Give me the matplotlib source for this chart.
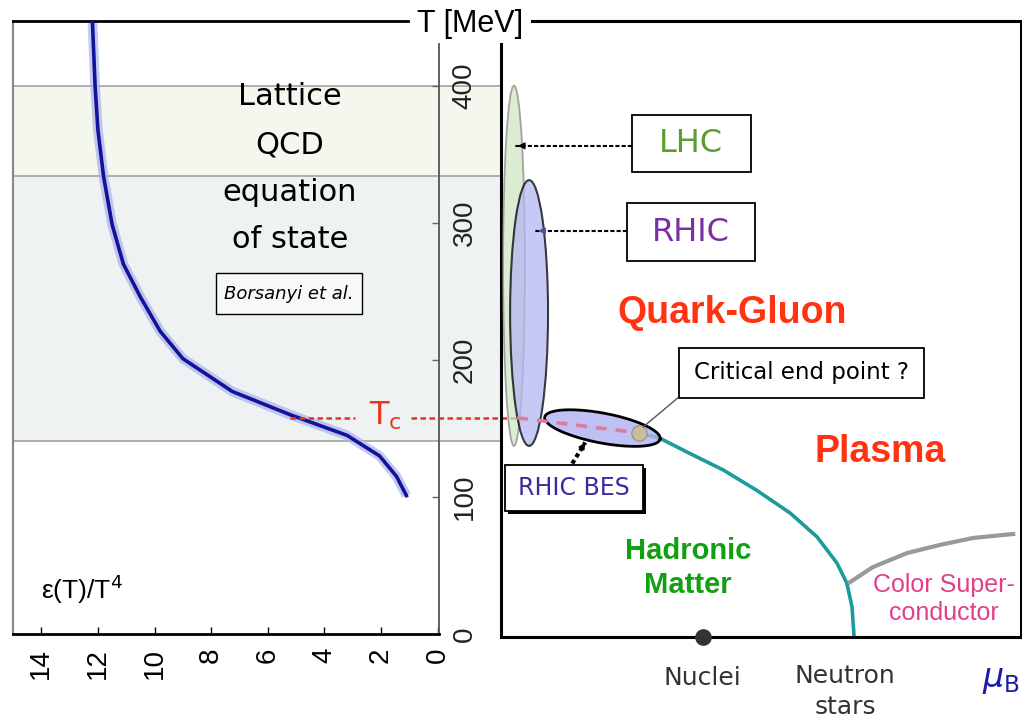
import numpy as np
import matplotlib.pyplot as plt
from matplotlib.patches import Ellipse, Rectangle

plt.rcParams['font.family'] = ['Liberation Sans', 'DejaVu Sans']
plt.rcParams['mathtext.fontset'] = 'dejavusans'

# ---------------------------------------------------------
# Data
# ---------------------------------------------------------
# lattice QCD equation of state (Borsanyi et al.): eps/T^4 vs T [MeV]
eos_T = [450, 400, 368, 334, 299, 270, 246, 221, 201, 177, 160, 145, 130, 115, 101]
eos_eps = [12.2, 12.1, 12.0, 11.8, 11.5, 11.1, 10.5, 9.8, 9.0, 7.25, 5.2, 3.2, 2.05, 1.45, 1.1]

T_c = 158
band_T = [141, 334, 400]          # shaded T ranges (RHIC / LHC)
eps_ticks = [0, 2, 4, 6, 8, 10, 12, 14]
T_ticks = [0, 100, 200, 300, 400]

# phase diagram (mu_B in arbitrary units 0..1, T in MeV)
crit_mu, crit_T = 0.265, 149
crossover_mu = [0.031, 0.265]
crossover_T = [160, 149]
boundary_mu = [0.265, 0.306, 0.363, 0.427, 0.492, 0.556, 0.608, 0.646, 0.665, 0.675, 0.679]
boundary_T = [149, 145, 134, 122, 107, 90.5, 73, 54, 39.4, 22, 0]
csc_mu = [0.671, 0.715, 0.781, 0.844, 0.908, 0.985]
csc_T = [40, 51, 61.3, 67.2, 72.3, 75.2]
nuclei_mu = 0.388

# collider regions: center (mu, T), full width (mu), full height (T)
lhc_region = (0.025, 271, 0.042, 263)
rhic_region = (0.054, 236.5, 0.073, 194)
bes_center = (0.195, 152.5)
bes_major = (0.111, -8.0)
bes_minor = (-0.0054, -10.7)

# ---------------------------------------------------------
# Figure
# ---------------------------------------------------------
W, H = 1022, 721
fig = plt.figure(figsize=(W / 100, H / 100), dpi=100)

ax_l = fig.add_axes([13 / W, 1 - 634 / H, 426 / W, 613 / H])
ax_r = fig.add_axes([501 / W, 1 - 637 / H, 520 / W, 616 / H])
ax_r.set_facecolor('none')

# ---------------------------------------------------------
# Left panel: equation of state
# ---------------------------------------------------------
ax_l.set_xlim(15, -0.05)
ax_l.set_ylim(0, 613 / 1.37)

ax_l.axhspan(band_T[0], band_T[1], xmin=0, xmax=1.146, color='#eef2f3', lw=0, zorder=0, clip_on=False)
ax_l.axhspan(band_T[1], band_T[2], xmin=0, xmax=1.146, color='#f4f7ee', lw=0, zorder=0, clip_on=False)
for t in band_T:
    ax_l.axhline(t, xmin=0, xmax=1.146, color='#a8a8a8', lw=1.3, zorder=1, clip_on=False)

ax_l.plot(eos_eps, eos_T, color='#aab2ea', lw=7, alpha=0.7, solid_capstyle='butt', zorder=2)
ax_l.plot(eos_eps, eos_T, color='#12129a', lw=2.6, zorder=3)

# T_c line
ax_l.plot([5.2, 2.9], [T_c, T_c], color='#e8361c', lw=1.8, ls=(0, (2.2, 1.4)), zorder=3)
ax_l.plot([0.95, -2.8], [T_c, T_c], color='#e8361c', lw=1.8, ls=(0, (2.2, 1.4)), zorder=3, clip_on=False)
ax_l.text(1.85, T_c + 1, r'T$_\mathsf{c}$', color='#e8361c', fontsize=23, ha='center', va='center',
          family='DejaVu Sans')

lattice_lines = ['Lattice', 'QCD', 'equation', 'of state']
for i, s in enumerate(lattice_lines):
    ax_l.text(5.22, 392 - 34.8 * i, s, fontsize=22, ha='center', va='center', family='DejaVu Sans')

ax_l.add_patch(Rectangle((7.84, 233.6), 2.67 - 7.84, 263.5 - 233.6, facecolor='#f7f8f8',
                         edgecolor='black', lw=1, zorder=3))
ax_l.text(5.26, 248.5, 'Borsanyi et al.', fontsize=13, style='italic', ha='center', va='center',
          family='DejaVu Sans', zorder=4)

ax_l.text(14.0, 33, r'ε(T)/T$^\mathsf{4}$', fontsize=19, ha='left', va='center')

ax_l.set_xticks(eps_ticks)
ax_l.set_yticks(T_ticks)
ax_l.yaxis.tick_right()
ax_l.tick_params(axis='x', direction='in', length=5, width=1, labelsize=20, labelrotation=90, pad=10)
ax_l.tick_params(axis='y', direction='in', length=5, width=1, color='#666666', labelsize=20,
                 labelrotation=90, pad=9)
for lab in ax_l.get_yticklabels():
    lab.set_color('#222222')
    lab.set_va('center')

ax_l.spines['top'].set_bounds(15, 1.04)
ax_l.spines['top'].set_linewidth(2)
ax_l.spines['left'].set_color('#888888')
ax_l.spines['left'].set_linewidth(1.5)
ax_l.spines['right'].set_color('#555555')
ax_l.spines['right'].set_linewidth(1.3)
ax_l.spines['right'].set_bounds(0, 431)
ax_l.spines['bottom'].set_linewidth(2)

fig.text(470 / W, 1 - 24 / H, 'T [MeV]', fontsize=22, ha='center', va='center')

# ---------------------------------------------------------
# Right panel: phase diagram
# ---------------------------------------------------------
ax_r.set_xlim(0, 1)
ax_r.set_ylim(0, 616 / 1.37)
ax_r.set_xticks([])
ax_r.set_yticks([])
for sp in ax_r.spines.values():
    sp.set_linewidth(2.2)
ax_r.spines['top'].set_bounds(0.06, 1)
ax_r.spines['left'].set_bounds(0, 433)

ax_r.plot(boundary_mu, boundary_T, color='#1c9b9b', lw=2.6, zorder=2)
ax_r.plot(csc_mu, csc_T, color='#999999', lw=3, zorder=2)

cx, cy, w, h = lhc_region
ax_r.add_patch(Ellipse((cx, cy), w, h, facecolor='#cfe6c4', edgecolor='#888888', lw=1.3,
                       alpha=0.75, zorder=3))
cx, cy, w, h = rhic_region
ax_r.add_patch(Ellipse((cx, cy), w, h, facecolor='#b4b6f2', edgecolor='black', lw=1.5,
                       alpha=0.75, zorder=4))

t = np.linspace(0, 2 * np.pi, 200)
bes_x = bes_center[0] + bes_major[0] * np.cos(t) + bes_minor[0] * np.sin(t)
bes_y = bes_center[1] + bes_major[1] * np.cos(t) + bes_minor[1] * np.sin(t)
ax_r.fill(bes_x, bes_y, facecolor='#b0b2f2', edgecolor='none', alpha=0.8, zorder=5)
ax_r.plot(bes_x, bes_y, color='black', lw=2, zorder=6)

ax_r.plot(crossover_mu, crossover_T, color='#e07a9a', lw=2.6, ls=(0, (3, 2.5)), zorder=6)
ax_r.plot([crit_mu], [crit_T], 'o', ms=11, mfc='#cbbc9e', mec='#a09880', mew=1, zorder=7)

ax_r.plot([nuclei_mu], [0], 'o', ms=11, color='#333333', clip_on=False, zorder=8)


# labelled boxes
def box(x0, x1, t0, t1, shadow=False):
    if shadow:
        ax_r.add_patch(Rectangle((x0 + 0.005, t0 - 2.5), x1 - x0, t1 - t0, facecolor='black',
                                 edgecolor='none', zorder=7))
    ax_r.add_patch(Rectangle((x0, t0), x1 - x0, t1 - t0, facecolor='white',
                             edgecolor='black', lw=1.3, zorder=8))


def dotted_arrow(x0, t0, x1, t1, color, lw=1.5, dash=(2, 1)):
    ax_r.plot([x0, x1], [t0, t1], color='black', lw=lw, ls=(0, dash), zorder=8)
    ax_r.annotate('', xy=(x1, t1), xytext=(x1 + (x0 - x1) * 0.08, t1 + (t0 - t1) * 0.08),
                  arrowprops=dict(arrowstyle='-|>', color=color, lw=1, mutation_scale=10), zorder=9)


box(0.252, 0.481, 339.5, 381)
ax_r.text(0.366, 360, 'LHC', color='#5a9e32', fontsize=23, ha='center', va='center',
          family='DejaVu Sans', zorder=9)
dotted_arrow(0.252, 358.5, 0.027, 358.5, 'black')

box(0.242, 0.488, 274.5, 317)
ax_r.text(0.365, 295.5, 'RHIC', color='#7b2fa0', fontsize=23, ha='center', va='center',
          family='DejaVu Sans', zorder=9)
dotted_arrow(0.242, 296.5, 0.066, 296.5, '#5a4aa0')

box(0.342, 0.813, 174.5, 211)
ax_r.text(0.577, 193, 'Critical end point ?', fontsize=16.5, ha='center', va='center',
          family='DejaVu Sans', zorder=9)
ax_r.plot([0.34, 0.274], [174.5, 153.5], color='#555555', lw=1, zorder=8)

box(0.008, 0.273, 92, 125.5, shadow=True)
ax_r.text(0.14, 109, 'RHIC BES', color='#3a2d9e', fontsize=17, ha='center', va='center',
          family='DejaVu Sans', zorder=9)
dotted_arrow(0.137, 126.6, 0.162, 142, 'black', lw=3, dash=(1, 0.8))

# region labels
ax_r.text(0.444, 236.5, 'Quark-Gluon', color='#ff3311', fontsize=27, fontweight='bold',
          ha='center', va='center')
ax_r.text(0.729, 135, 'Plasma', color='#ff3311', fontsize=27, fontweight='bold',
          ha='center', va='center')
ax_r.text(0.36, 50.4, 'Hadronic\nMatter', color='#11a011', fontsize=21, fontweight='bold',
          ha='center', va='center', linespacing=1.25)
ax_r.text(0.852, 27.7, 'Color Super-\nconductor', color='#e0408a', fontsize=18,
          ha='center', va='center', linespacing=1.2)

ax_r.text(0.388, -30, 'Nuclei', color='#333333', fontsize=18, ha='center', va='center',
          family='DejaVu Sans')
ax_r.text(0.662, -40, 'Neutron\nstars', color='#333333', fontsize=18, ha='center', va='center',
          family='DejaVu Sans', linespacing=1.35)
ax_r.text(0.962, -31.4, r'$\mu_\mathsf{B}$', color='#1a1aa8', fontsize=24, ha='center', va='center')

fig.savefig('out.png', dpi=100)
